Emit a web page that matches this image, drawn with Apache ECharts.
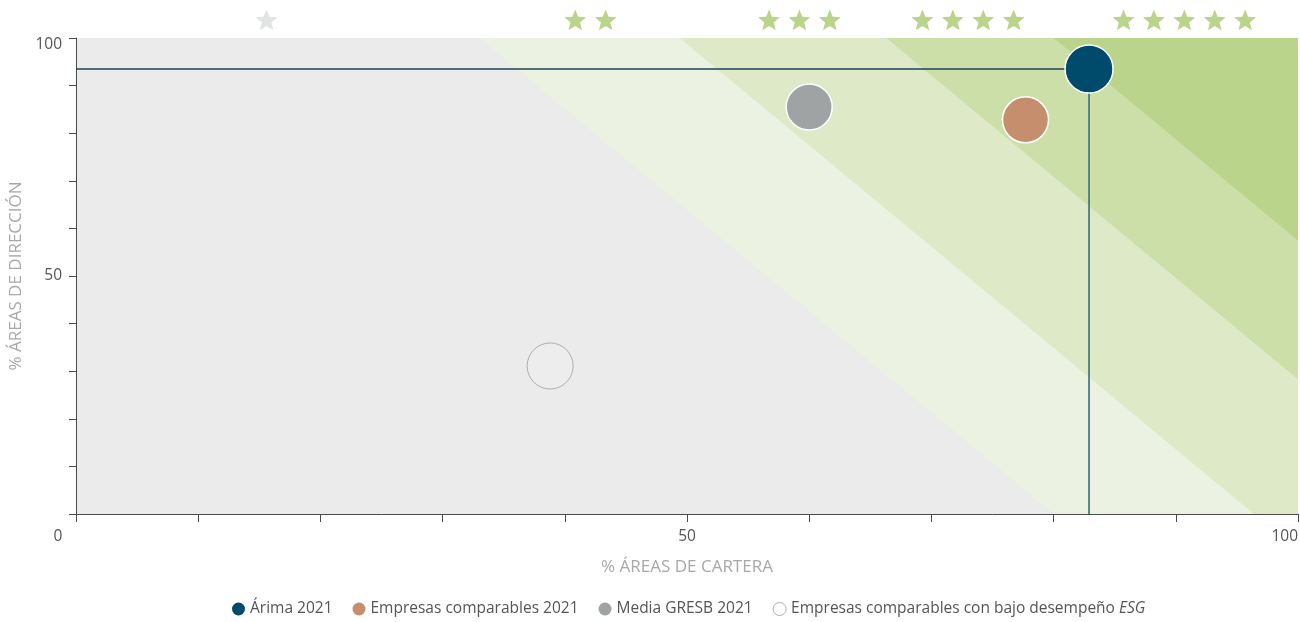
<!DOCTYPE html>
<html>
<head>
<meta charset="utf-8">
<script src="https://cdn.jsdelivr.net/npm/echarts@6/dist/echarts.min.js"></script>
<style>
html,body{margin:0;padding:0;background:#fff;}
#chart{width:1300px;height:622px;}
</style>
</head>
<body>
<div id="chart"></div>
<script>
// ---- data ----
const seriesNames = ['Árima 2021', 'Empresas comparables 2021', 'Media GRESB 2021', 'Empresas comparables con bajo desempeño ESG'];
const xValues = [82.9, 77.7, 60.0, 38.8];   // % Áreas de cartera
const yValues = [93.5, 82.8, 85.5, 31.1];   // % Áreas de dirección
const ratingStars = [1, 2, 3, 4, 5];
const ratingCenterX = [15.6, 42.1, 59.2, 73.0, 90.7];
const bandTopX = [33.0, 49.4, 66.3, 80.0];      // boundary x at y = 100
const bandBottomX = [80.0, 96.4, 113.3, 127.0]; // boundary x at y = 0 (extended)
const xTickLabels = [0, 50, 100];
const yTickLabels = [50, 100];

// ---- styles ----
const bubbleColors = ['#004b6b', '#c68e6d', '#a0a3a4', 'rgba(255,255,255,0)'];
const bandColors = ['#ebf2e2', '#dee9c8', '#cddfa9', '#bad48b'];
const starColors = ['#e2e3e3', '#bad48b', '#bad48b', '#bad48b', '#bad48b'];
const font = 'Open Sans';

function starPoints(cx, cy, R, r) {
  const pts = [];
  for (let k = 0; k < 10; k++) {
    const rad = (k % 2 === 0) ? R : r;
    const a = -Math.PI / 2 + k * Math.PI / 5;
    pts.push([cx + rad * Math.cos(a), cy + rad * Math.sin(a)]);
  }
  return pts;
}

const chart = echarts.init(document.getElementById('chart'));

const bandSeries = {
  type: 'custom',
  silent: true,
  z: 0,
  clip: true,
  data: bandTopX.map((t, i) => [t, bandBottomX[i], i]),
  renderItem: function (params, api) {
    const t = api.value(0), b = api.value(1), i = api.value(2);
    const verts = [[t, 100], [100, 100]];
    if (b <= 100) {
      verts.push([100, 0], [b, 0]);
    } else {
      const yR = 100 * (100 - b) / (t - b);
      verts.push([100, yR]);
    }
    return {
      type: 'polygon',
      shape: { points: verts.map(v => api.coord(v)) },
      style: { fill: bandColors[i], stroke: null }
    };
  }
};

const starSeries = {
  type: 'custom',
  silent: true,
  clip: false,
  z: 1,
  data: ratingCenterX.map((x, i) => [x, 103.8, ratingStars[i]]),
  renderItem: function (params, api) {
    const c = api.coord([api.value(0), api.value(1)]);
    const n = api.value(2);
    const children = [];
    for (let j = 0; j < n; j++) {
      const cx = c[0] + (j - (n - 1) / 2) * 30.4;
      children.push({
        type: 'polygon',
        shape: { points: starPoints(cx, c[1] + 1, 11.5, 5) },
        style: { fill: starColors[n - 1] }
      });
    }
    return { type: 'group', children: children };
  }
};

const bubbleSeries = seriesNames.map((name, i) => ({
  name: name,
  type: 'scatter',
  z: 5,
  symbolSize: i === 0 ? 48 : 46,
  data: [[xValues[i], yValues[i]]],
  itemStyle: i === 3
    ? { color: 'rgba(255,255,255,0.15)', borderColor: '#9d9d9d', borderWidth: 1 }
    : { color: bubbleColors[i], borderColor: '#ffffff', borderWidth: 1.5, opacity: 1 },
  emphasis: { disabled: true }
}));

const crossH = {
  type: 'line', z: 3, symbol: 'none', silent: true,
  data: [[0, yValues[0]], [xValues[0], yValues[0]]],
  lineStyle: { color: '#1b4356', width: 1.5 }
};
const crossV = {
  type: 'line', z: 3, symbol: 'none', silent: true,
  data: [[xValues[0], yValues[0]], [xValues[0], 0]],
  lineStyle: { color: '#4a7a86', width: 1.8 }
};

const option = {
  backgroundColor: '#ffffff',
  animation: false,
  textStyle: { fontFamily: font },
  grid: {
    left: 76, right: 2, top: 38, bottom: 108,
    outerBoundsMode: 'none', containLabel: false,
    show: true, backgroundColor: '#eaebea', borderWidth: 0
  },
  xAxis: {
    type: 'value', min: 0, max: 100, interval: 10,
    name: '% ÁREAS DE CARTERA',
    nameLocation: 'middle', nameGap: 45,
    nameTextStyle: { color: '#a8a8a8', fontSize: 17, fontFamily: font },
    axisLine: { show: true, onZero: false, lineStyle: { color: '#4a4a4a', width: 1 } },
    axisTick: { show: true, length: 8, lineStyle: { color: '#4a4a4a' } },
    splitLine: { show: false },
    axisLabel: {
      margin: 15, color: '#555', fontSize: 15.5, fontFamily: font,
      showMinLabel: true, showMaxLabel: true, alignMaxLabel: 'right', hideOverlap: false,
      formatter: function (v) {
        if (!xTickLabels.includes(v)) return '';
        if (v === 0) return '{l|0}';
        return String(v);
      },
      rich: {
        l: { padding: [0, 36, 0, 0], color: '#555', fontSize: 15.5, fontFamily: font }
      }
    }
  },
  yAxis: {
    type: 'value', min: 0, max: 100, interval: 10,
    name: '% ÁREAS DE DIRECCIÓN',
    nameLocation: 'middle', nameGap: 37,
    nameTextStyle: { color: '#a8a8a8', fontSize: 17, fontFamily: font },
    axisLine: { show: true, onZero: false, lineStyle: { color: '#4a4a4a', width: 1 } },
    axisTick: { show: true, length: 7, lineStyle: { color: '#4a4a4a' } },
    splitLine: { show: false },
    axisLabel: {
      margin: 14, color: '#555', fontSize: 15.5, fontFamily: font,
      formatter: function (v) {
        if (!yTickLabels.includes(v)) return '';
        if (v === 100) return '{t|100}';
        return String(v);
      },
      rich: {
        t: { padding: [14, 0, 0, 0], color: '#555', fontSize: 15.5, fontFamily: font }
      }
    }
  },
  legend: {
    bottom: 0, left: 227,
    icon: 'circle', itemWidth: 13, itemHeight: 13, itemGap: 20,
    selectedMode: false,
    textStyle: {
      color: '#555', fontSize: 15.5, fontFamily: font,
      rich: { i: { fontStyle: 'italic', color: '#555', fontSize: 15.5, fontFamily: font } }
    },
    formatter: function (name) {
      return name.endsWith(' ESG') ? name.slice(0, -4) + ' {i|ESG}' : name;
    },
    data: seriesNames.map((n, i) => i === 3
      ? { name: n, itemStyle: { color: '#ffffff', borderColor: '#9d9d9d', borderWidth: 1 } }
      : { name: n, itemStyle: { color: bubbleColors[i], borderWidth: 0 } })
  },
  series: [bandSeries, starSeries, crossH, crossV].concat(bubbleSeries)
};

chart.setOption(option);
</script>
</body>
</html>
